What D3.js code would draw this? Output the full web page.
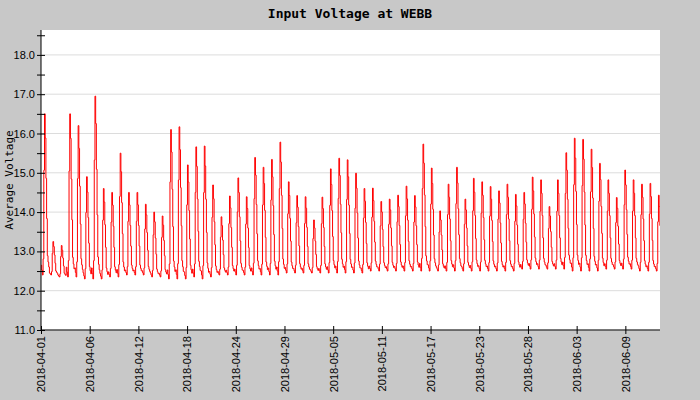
<!DOCTYPE html>
<html><head><meta charset="utf-8">
<script src="https://cdn.jsdelivr.net/npm/d3@7"></script>
<style>body{margin:0;background:#c8c8c8}</style>
</head><body><div id="chart"></div>
<script>
// daily peak voltage, 2018-04-01 .. 2018-06-14
var peaks = [16.5,13.25,13.15,16.5,16.2,14.9,16.95,14.6,14.5,15.5,14.5,14.5,14.2,14.0,13.9,16.1,16.17,15.2,15.66,
  15.68,14.69,13.88,14.41,14.87,14.39,15.39,15.14,15.34,15.78,14.77,14.42,14.39,13.8,14.38,15.1,15.37,15.33,14.99,
  14.6,14.61,14.27,14.33,14.43,14.66,14.42,15.73,15.12,14.03,14.71,15.14,14.33,14.86,14.77,14.65,14.54,14.71,
  14.45,14.5,14.89,14.82,14.14,14.82,15.51,15.88,15.85,15.6,15.24,14.82,14.37,15.07,14.82,14.71,14.73,14.43,14.25];
// daily night-time low
var lows = [12.4,12.4,12.35,12.35,12.35,12.3,12.3,12.3,12.35,12.35,12.4,12.4,12.4,12.35,12.35,12.3,12.3,12.3,12.35,
  12.3,12.35,12.4,12.4,12.4,12.4,12.4,12.4,12.4,12.4,12.45,12.45,12.45,12.45,12.45,12.45,12.45,12.45,12.45,
  12.45,12.5,12.5,12.5,12.5,12.5,12.5,12.5,12.5,12.5,12.5,12.5,12.5,12.5,12.5,12.5,12.5,12.5,
  12.5,12.55,12.55,12.55,12.55,12.55,12.55,12.5,12.5,12.5,12.5,12.55,12.55,12.55,12.55,12.5,12.5,12.5,12.5];
// fraction of the day's swing for each 2-hour reading
var shape = [0.06,0.03,0,0.1,0.65,1,0.85,0.6,0.35,0.12,0.08,0.05];
var tickLabels = ["2018-04-01","2018-04-06","2018-04-12","2018-04-18","2018-04-24","2018-04-29","2018-05-05",
  "2018-05-11","2018-05-17","2018-05-23","2018-05-28","2018-06-03","2018-06-09"];
var yTicks = [11,12,13,14,15,16,17,18];

var width = 700, height = 400;
var m = {l: 41, r: 660, t: 30, b: 330};
var start = new Date(2018, 3, 1);
var dayMs = 864e5;

var pts = [];
peaks.forEach(function(p, i) {
  shape.forEach(function(f, h) {
    pts.push({t: new Date(+start + i * dayMs + h * 2 * 36e5), v: lows[i] + f * (p - lows[i])});
  });
});

var x = d3.scaleTime().domain([start, new Date(+start + 73.6 * dayMs)]).range([m.l, m.r]);
var y = d3.scaleLinear().domain([11, 11 + 300 / 39.3]).range([m.b, m.t]);

var svg = d3.select('#chart').append('svg').attr('width', width).attr('height', height)
  .style('font-family', 'DejaVu Sans Mono, monospace');
svg.append('rect').attr('width', width).attr('height', height).attr('fill', '#c8c8c8');
svg.append('rect').attr('x', m.l).attr('y', m.t).attr('width', m.r - m.l).attr('height', m.b - m.t).attr('fill', '#fff');

svg.append('g').selectAll('line').data(yTicks).join('line')
  .attr('x1', m.l).attr('x2', m.r).attr('y1', function(d){return y(d)}).attr('y2', function(d){return y(d)})
  .attr('stroke', '#dcdcdc');

svg.append('clipPath').attr('id', 'c').append('rect').attr('x', m.l).attr('y', m.t).attr('width', m.r - m.l).attr('height', m.b - m.t);
svg.append('path').datum(pts).attr('clip-path', 'url(#c)')
  .attr('fill', 'none').attr('stroke', '#f00').attr('stroke-width', 1)
  .attr('d', d3.line().curve(d3.curveStepAfter).x(function(d){return x(d.t)}).y(function(d){return y(d.v)}));

// y axis
var ya = svg.append('g').attr('transform', 'translate(' + m.l + ',0)')
  .call(d3.axisLeft(y).tickValues(d3.range(11, 18.6, 0.5)).tickSize(4).tickFormat(function(d){return d % 1 ? '' : d3.format('.1f')(d)}));
ya.selectAll('.tick line').attr('x2', 4).attr('x1', -4);
ya.selectAll('text').attr('x', -6).style('font-size', '11px');
ya.select('.domain').attr('d', 'M0,' + m.t + 'V' + m.b);

// x axis
var ticks = tickLabels.map(function(s, i){ return new Date(+start + i * 5.79 * dayMs); });
var xa = svg.append('g').attr('transform', 'translate(0,' + m.b + ')')
  .call(d3.axisBottom(x).tickValues(ticks).tickSize(4).tickFormat(function(d, i){return tickLabels[i]}));
xa.selectAll('.tick line').attr('y1', -4).attr('y2', 4);
xa.select('.domain').attr('d', 'M' + m.l + ',0H' + m.r);
xa.selectAll('text').attr('transform', 'rotate(-90)').attr('text-anchor', 'end')
  .attr('x', -6).attr('y', 0).attr('dy', '0.35em').style('font-size', '11px');

svg.append('text').attr('x', 350).attr('y', 18).attr('text-anchor', 'middle')
  .style('font-size', '13px').style('font-weight', 'bold').text('Input Voltage at WEBB');
svg.append('text').attr('transform', 'translate(13,180) rotate(-90)').attr('text-anchor', 'middle')
  .style('font-size', '11px').text('Average Voltage');
</script></body></html>
